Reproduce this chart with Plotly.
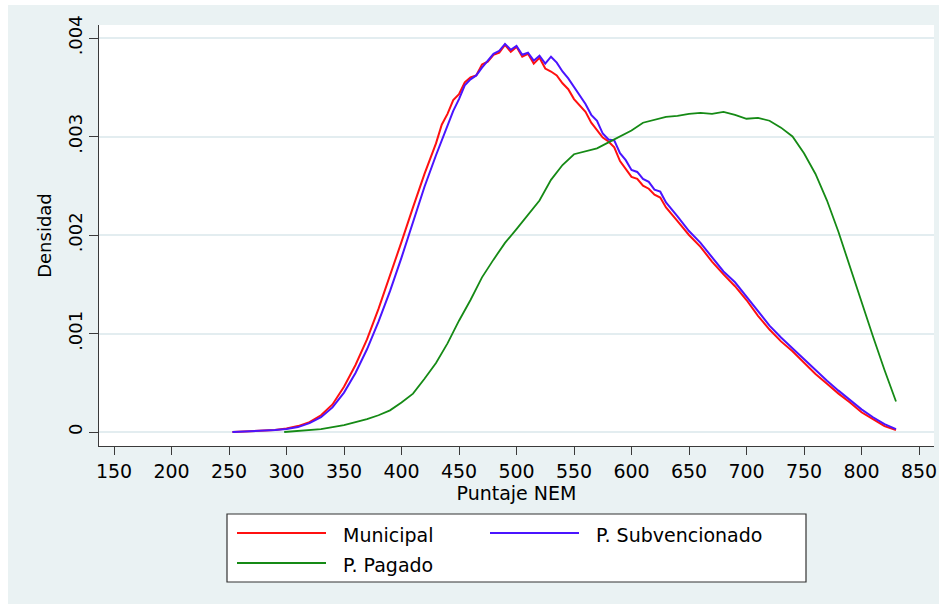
import plotly.graph_objects as go

# Kernel density estimates of the NEM score by school type
mun_x = [253, 260, 270, 280, 290, 300, 310, 320, 330, 340, 350, 360, 370, 380, 390,
         400, 410, 420, 430, 435, 440, 445, 450, 455, 460, 465, 470, 475, 480, 485,
         490, 495, 500, 505, 510, 515, 520, 525, 530, 535, 540, 545, 550, 555, 560,
         565, 570, 575, 580, 585, 590, 595, 600, 605, 610, 615, 620, 625, 630, 640,
         650, 660, 670, 680, 690, 700, 710, 720, 730, 740, 750, 760, 770, 780, 790,
         800, 810, 820, 830]
mun_y = [0.0, 0.000003, 0.000006, 0.00001, 0.00002, 0.000035, 0.00006, 0.0001, 0.00017,
         0.00028, 0.00046, 0.00068, 0.00094, 0.00125, 0.00158, 0.00193, 0.00228, 0.00262,
         0.00293, 0.00312, 0.00323, 0.00337, 0.00343, 0.00355, 0.0036, 0.00362, 0.00373,
         0.00376, 0.00383, 0.00385, 0.00393, 0.00386, 0.00391, 0.00381, 0.00384, 0.00374,
         0.0038, 0.00369, 0.00366, 0.00362, 0.00354, 0.00348, 0.00338, 0.00332, 0.00325,
         0.00314, 0.00306, 0.00299, 0.00295, 0.00289, 0.00275, 0.00267, 0.00259, 0.00257,
         0.0025, 0.00247, 0.00241, 0.00238, 0.00228, 0.00214, 0.002, 0.00188, 0.00173,
         0.0016, 0.00148, 0.00134, 0.00118, 0.00104, 0.00092, 0.00082, 0.0007, 0.00059,
         0.00049, 0.00039, 0.0003, 0.0002, 0.00013, 0.00006, 0.00002]

sub_x = mun_x
sub_y = [0.0, 0.000003, 0.000006, 0.00001, 0.00002, 0.00003, 0.00005, 0.00009, 0.00015,
         0.00025, 0.0004, 0.0006, 0.00084, 0.00112, 0.00143, 0.00177, 0.00213, 0.00249,
         0.00281, 0.00296, 0.00312, 0.00326, 0.00338, 0.00352, 0.00358, 0.00362, 0.0037,
         0.00377, 0.00384, 0.00387, 0.00394, 0.00388, 0.00392, 0.00383, 0.00385, 0.00377,
         0.00382, 0.00374, 0.00381, 0.00375, 0.00366, 0.00359, 0.0035, 0.00341, 0.00333,
         0.00322, 0.00316, 0.00303, 0.00297, 0.00296, 0.00283, 0.00276, 0.00266, 0.00264,
         0.00257, 0.00254, 0.00246, 0.00244, 0.00233, 0.00219, 0.00204, 0.00192, 0.00177,
         0.00163, 0.00152, 0.00137, 0.00122, 0.00108, 0.00096, 0.00085, 0.00073, 0.00062,
         0.00052, 0.00042, 0.00032, 0.00023, 0.00015, 0.00008, 0.00003]

pag_x = [298, 310, 320, 330, 340, 350, 360, 370, 380, 390, 400, 410, 420, 430, 440,
         450, 460, 470, 480, 490, 500, 510, 520, 530, 540, 550, 560, 570, 580, 590,
         600, 610, 620, 630, 640, 650, 660, 670, 680, 690, 700, 710, 720, 730, 740,
         750, 760, 770, 780, 790, 800, 810, 820, 830]
pag_y = [0.0, 0.00001, 0.00002, 0.00003, 0.00005, 0.00007, 0.0001, 0.00013, 0.00017,
         0.00022, 0.0003, 0.00039, 0.00054, 0.0007, 0.0009, 0.00113, 0.00134, 0.00157,
         0.00175, 0.00192, 0.00206, 0.0022, 0.00235, 0.00256, 0.00271, 0.00282, 0.00285,
         0.00288, 0.00294, 0.003, 0.00306, 0.00314, 0.00317, 0.0032, 0.00321, 0.00323,
         0.00324, 0.00323, 0.00325, 0.00322, 0.00318, 0.00319, 0.00316, 0.00309, 0.003,
         0.00283, 0.00262, 0.00235, 0.00203, 0.00167, 0.00132, 0.00097, 0.00063, 0.00031]

series_names = ["Municipal", "P. Subvencionado", "P. Pagado"]
series_colors = ["#ff1010", "#4a14ff", "#158a15"]

y_ticks = [0, 0.001, 0.002, 0.003, 0.004]
y_tick_text = ["0", ".001", ".002", ".003", ".004"]
x_ticks = [150, 200, 250, 300, 350, 400, 450, 500, 550, 600, 650, 700, 750, 800, 850]

FONT = "DejaVu Sans"
BG = "#eaf2f3"
W, H = 939, 604
ML, MR, MT, MB = 99, 5, 25, 158
PW, PH = W - ML - MR, H - MT - MB


def px_to_paper(px, py):
    return (px - ML) / PW, (H - MB - py) / PH


fig = go.Figure()
for xs, ys, name, col, w in zip([mun_x, sub_x, pag_x], [mun_y, sub_y, pag_y],
                                series_names, series_colors, [2.0, 2.0, 1.8]):
    fig.add_trace(go.Scatter(x=xs, y=ys, mode="lines", name=name,
                             line=dict(color=col, width=w), showlegend=False))

shapes = []
annotations = []

# white page edge at the top and left
x0, y0 = px_to_paper(0, 0)
x1, y1 = px_to_paper(W, 5)
shapes.append(dict(type="rect", xref="paper", yref="paper", x0=x0, x1=x1, y0=y0, y1=y1,
                   fillcolor="white", line=dict(width=0), layer="below"))
x1, y1 = px_to_paper(8, H)
shapes.append(dict(type="rect", xref="paper", yref="paper", x0=x0, x1=x1, y0=y0, y1=y1,
                   fillcolor="white", line=dict(width=0), layer="below"))

# legend box with two columns
bx0, by0 = px_to_paper(227, 514)
bx1, by1 = px_to_paper(806, 582)
shapes.append(dict(type="rect", xref="paper", yref="paper", x0=bx0, x1=bx1, y0=by0, y1=by1,
                   fillcolor="white", line=dict(color="#333333", width=1.2)))
slots = [(237, 533), (490, 533), (237, 563)]
for (sx, sy), name, col in zip(slots, series_names, series_colors):
    lx0, ly = px_to_paper(sx, sy)
    lx1, _ = px_to_paper(sx + 89, sy)
    shapes.append(dict(type="line", xref="paper", yref="paper", x0=lx0, x1=lx1, y0=ly, y1=ly,
                       line=dict(color=col, width=2)))
    tx, ty = px_to_paper(sx + 104, sy + 2)
    annotations.append(dict(x=tx, y=ty, xref="paper", yref="paper", text=name,
                            showarrow=False, xanchor="left", yanchor="middle",
                            font=dict(family=FONT, size=19, color="black")))

fig.update_layout(
    width=W, height=H,
    margin=dict(l=ML, r=MR, t=MT, b=MB, pad=0),
    paper_bgcolor=BG, plot_bgcolor="white",
    font=dict(family=FONT, size=19, color="black"),
    shapes=shapes, annotations=annotations,
    xaxis=dict(range=[136.96, 863.04], tickvals=x_ticks, showgrid=False, zeroline=False,
               showline=True, linecolor="#3a3a3a", linewidth=1.4,
               ticks="outside", ticklen=8, tickwidth=1.4, tickcolor="#3a3a3a",
               tickfont=dict(family=FONT, size=19, color="black"),
               title=dict(text="Puntaje NEM", font=dict(family=FONT, size=19), standoff=3),
               automargin=False),
    yaxis=dict(range=[-0.000142, 0.004132], tickvals=y_ticks, ticktext=y_tick_text,
               tickangle=-90, showgrid=True, gridcolor="#e3edf0", gridwidth=1.5,
               zeroline=False, showline=True, linecolor="#3a3a3a", linewidth=1.4,
               ticks="outside", ticklen=9, tickwidth=1.4, tickcolor="#3a3a3a",
               tickfont=dict(family=FONT, size=18, color="black"),
               title=dict(text="Densidad", font=dict(family=FONT, size=18), standoff=8),
               automargin=False),
)

fig.write_html("out.html")
